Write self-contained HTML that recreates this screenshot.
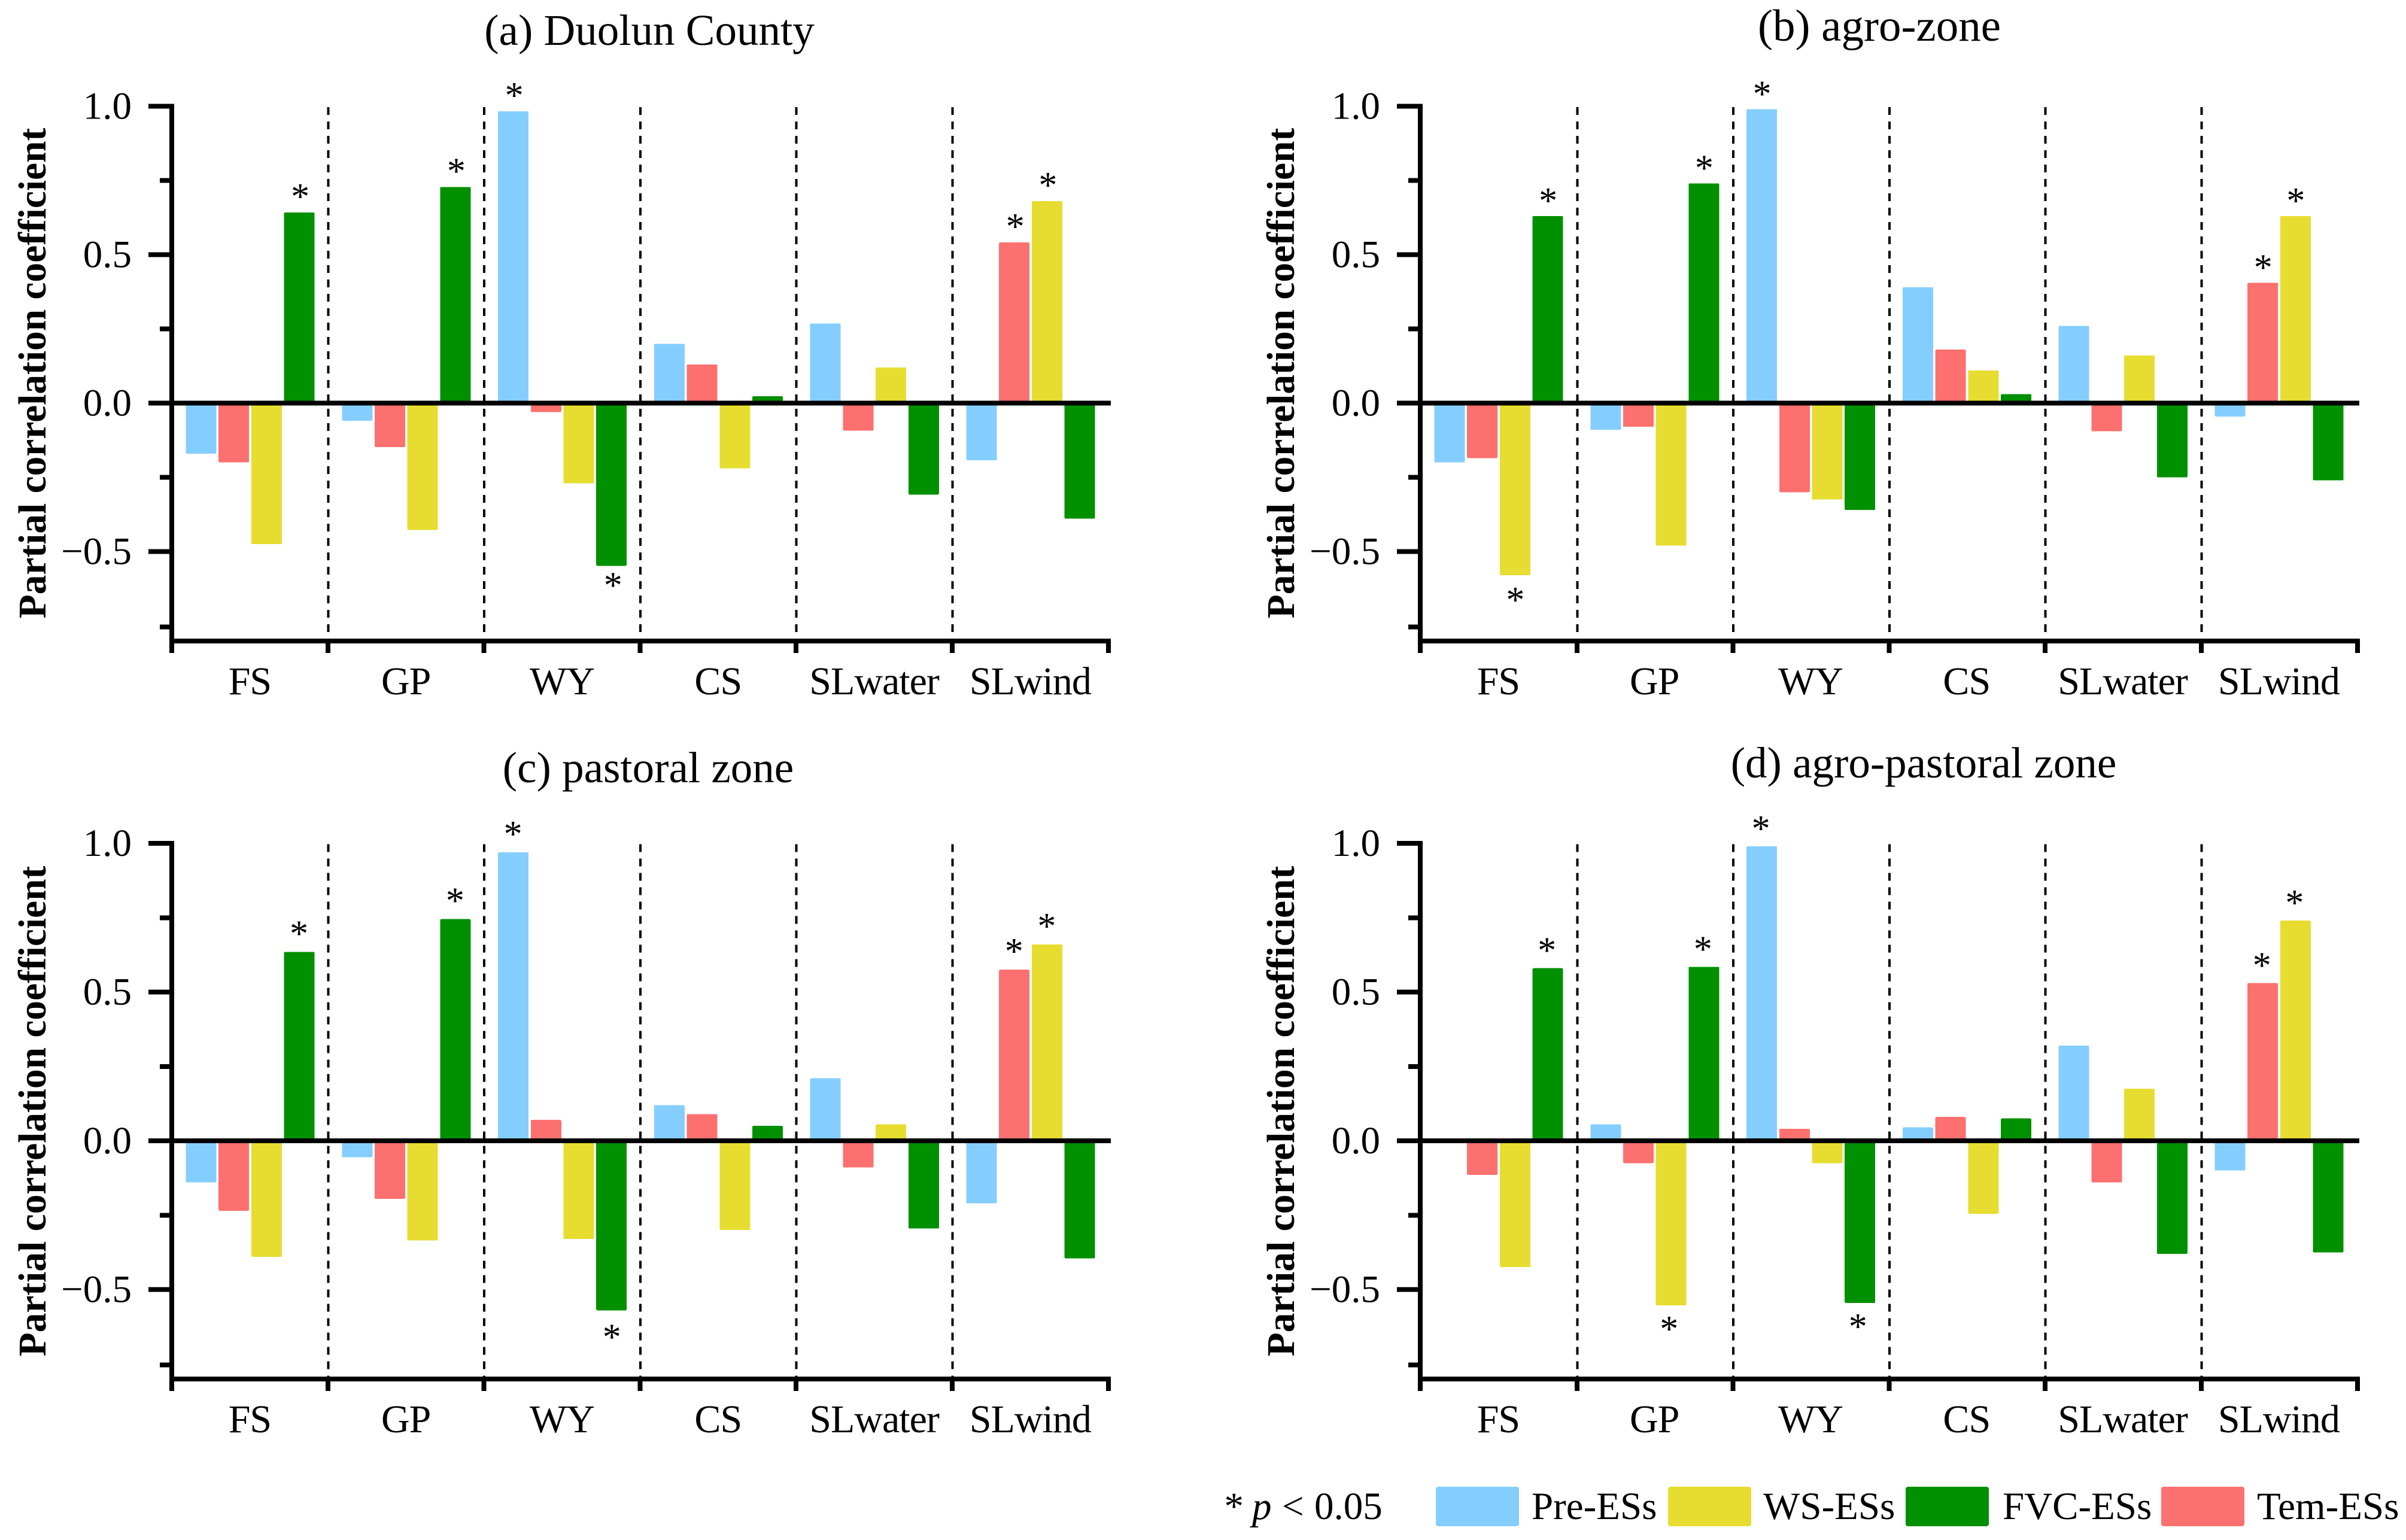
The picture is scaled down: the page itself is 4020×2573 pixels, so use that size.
<!DOCTYPE html>
<html lang="en">
<head>
<meta charset="utf-8">
<title>Partial correlation coefficient panels</title>
<style>
html,body{margin:0;padding:0;background:#fff;}
svg{display:block;}
text{font-family:"Liberation Serif",serif;fill:#000;}
</style>
</head>
<body>
<svg id="chart" xmlns="http://www.w3.org/2000/svg" width="4020" height="2573" viewBox="0 0 4020 2573" shape-rendering="crispEdges">
<rect x="0" y="0" width="4020" height="2573" fill="#ffffff"/>
<g id="panels"></g>
<g>
<text y="2538" font-size="65"><tspan x="2045.5">*</tspan><tspan x="2092" font-style="italic">p</tspan><tspan x="2142">&lt;</tspan><tspan x="2196">0.05</tspan></text>
<rect x="2399" y="2484" width="139" height="66" rx="4" fill="#84ceff"/>
<text x="2559" y="2538" font-size="65">Pre-ESs</text>
<rect x="2787" y="2484" width="139" height="66" rx="4" fill="#e6dd30"/>
<text x="2946" y="2538" font-size="65">WS-ESs</text>
<rect x="3184" y="2484" width="139" height="66" rx="4" fill="#009000"/>
<text x="3346" y="2538" font-size="65">FVC-ESs</text>
<rect x="3611" y="2484" width="139" height="66" rx="4" fill="#fd7070"/>
<text x="3771" y="2538" font-size="65">Tem-ESs</text>
</g>
</svg>
<script>
// Categories and tick labels
var categories = ['FS', 'GP', 'WY', 'CS', 'SLwater', 'SLwind'];
var majorTicks = [1.0, 0.5, 0.0, -0.5];
var minorTicks = [0.75, 0.25, -0.25, -0.754];
var tickLabels = ['1.0', '0.5', '0.0', '\u22120.5'];
var seriesNames = ['Pre-ESs', 'Tem-ESs', 'WS-ESs', 'FVC-ESs'];
var seriesColors = ['#84ceff', '#fd7070', '#e6dd30', '#009000'];

// Panel (a) Duolun County, values per category
var panelAPre = [-0.17, -0.059, 0.983, 0.20, 0.268, -0.193];
var panelATem = [-0.20, -0.148, -0.03, 0.13, -0.093, 0.541];
var panelAWs = [-0.475, -0.427, -0.27, -0.22, 0.12, 0.68];
var panelAFvc = [0.642, 0.728, -0.548, 0.023, -0.308, -0.389];
var panelASig = [[0, 3], [1, 3], [2, 0], [2, 3], [5, 1], [5, 2]];

// Panel (b) agro-zone
var panelBPre = [-0.20, -0.09, 0.99, 0.39, 0.26, -0.045];
var panelBTem = [-0.185, -0.08, -0.30, 0.18, -0.095, 0.405];
var panelBWs = [-0.58, -0.48, -0.325, 0.11, 0.16, 0.63];
var panelBFvc = [0.63, 0.74, -0.36, 0.03, -0.25, -0.26];
var panelBSig = [[0, 2], [0, 3], [1, 3], [2, 0], [5, 1], [5, 2]];

// Panel (c) pastoral zone
var panelCPre = [-0.14, -0.055, 0.97, 0.12, 0.21, -0.21];
var panelCTem = [-0.235, -0.195, 0.07, 0.09, -0.09, 0.575];
var panelCWs = [-0.39, -0.335, -0.33, -0.30, 0.055, 0.66];
var panelCFvc = [0.635, 0.745, -0.57, 0.05, -0.295, -0.395];
var panelCSig = [[0, 3], [1, 3], [2, 0], [2, 3], [5, 1], [5, 2]];

// Panel (d) agro-pastoral zone
var panelDPre = [0.003, 0.055, 0.99, 0.045, 0.32, -0.10];
var panelDTem = [-0.115, -0.075, 0.04, 0.08, -0.14, 0.53];
var panelDWs = [-0.425, -0.553, -0.075, -0.245, 0.175, 0.74];
var panelDFvc = [0.58, 0.585, -0.545, 0.075, -0.38, -0.375];
var panelDSig = [[0, 3], [1, 2], [1, 3], [2, 0], [2, 3], [5, 1], [5, 2]];

var panels = [
  {key: 'a', title: '(a) Duolun County', dx: 0, dy: 0, zero: 673.5, unit: 496, tickShift: 0, titleSize: 73, titleX: 1085, titleY: 75, starUpDx: 27, starUpDy: -6, starDownDx: 28, starDownDy: 53, series: [panelAPre, panelATem, panelAWs, panelAFvc], sig: panelASig},
  {key: 'b', title: '(b) agro-zone', dx: 2086, dy: 0, zero: 673.5, unit: 496, tickShift: 1, titleSize: 75, titleX: 3140, titleY: 68, starUpDx: 26, starUpDy: -5, starDownDx: 26, starDownDy: 62, series: [panelBPre, panelBTem, panelBWs, panelBFvc], sig: panelBSig},
  {key: 'c', title: '(c) pastoral zone', dx: 0, dy: 1233, zero: 1906, unit: 497, tickShift: 0, titleSize: 73, titleX: 1083, titleY: 1307, starUpDx: 25, starUpDy: -10, starDownDx: 26, starDownDy: 65, series: [panelCPre, panelCTem, panelCWs, panelCFvc], sig: panelCSig},
  {key: 'd', title: '(d) agro-pastoral zone', dx: 2086, dy: 1233, zero: 1906, unit: 497, tickShift: 1, titleSize: 73, titleX: 3214, titleY: 1299, starUpDx: 24, starUpDy: -9, starDownDx: 22, starDownDy: 60, series: [panelDPre, panelDTem, panelDWs, panelDFvc], sig: panelDSig}
];

var NS = 'http://www.w3.org/2000/svg';
var root = document.getElementById('panels');

function make(parent, tag, attrs, txt) {
  var el = document.createElementNS(NS, tag);
  for (var k in attrs) { el.setAttribute(k, attrs[k]); }
  if (txt !== undefined) { el.textContent = txt; }
  parent.appendChild(el);
  return el;
}

function yScale(p, v) { return p.zero - v * p.unit; }
function groupX(p, i) { return p.dx + 287 + i * 260.8; }
function barX(p, i, s) { return groupX(p, i) + 23.5 + s * 54.7; }

panels.forEach(function (p) {
  var g = make(root, 'g', {});
  
  

  var title = make(g, 'text', {x: p.titleX, y: p.titleY, 'font-size': p.titleSize, 'text-anchor': 'middle'}, p.title);
  
  

  var yTitleX = p.dx + 76;
  var yTitleY = p.dy + 623.5;
  var yTitle = make(g, 'text', {x: yTitleX, y: yTitleY, 'font-size': 65.4, 'font-weight': 'bold', 'text-anchor': 'middle', transform: 'rotate(-90 ' + yTitleX + ' ' + yTitleY + ')'}, 'Partial correlation coefficient');
  
  

  // group separators
  for (var d = 1; d < categories.length; d++) {
    var sepX = groupX(p, d) + 0.5 + p.tickShift;
    var sep = make(g, 'line', {x1: sepX, x2: sepX, y1: yScale(p, 1) + 1.5, y2: p.dy + 1067, stroke: '#000', 'stroke-width': 4, 'stroke-dasharray': '13 11'});
    
    
  }

  // bars
  p.series.forEach(function (vals, s) {
    vals.forEach(function (v, i) {
      var y0 = yScale(p, 0), y1 = yScale(p, v);
      var bar = make(g, 'rect', {x: barX(p, i, s), y: Math.min(y0, y1), width: 51, height: Math.abs(y1 - y0), rx: 2, fill: seriesColors[s]});
      
      
    });
  });

  // significance stars
  p.sig.forEach(function (pair) {
    var i = pair[0], s = pair[1];
    var v = p.series[s][i];
    var up = v >= 0;
    var starY = yScale(p, v) + (up ? p.starUpDy : p.starDownDy);
    var starX = barX(p, i, s) + (up ? p.starUpDx : p.starDownDx);
    var star = make(g, 'text', {x: starX, y: starY, 'font-size': 62, 'text-anchor': 'middle'}, '*');
    
    
  });

  // y axis spine
  var spineTop = yScale(p, 1) - 4;
  var ySpine = make(g, 'rect', {x: p.dx + 283, y: spineTop, width: 8, height: p.dy + 1091 - spineTop, fill: '#000'});
  
  

  // major ticks + labels
  majorTicks.forEach(function (t, idx) {
    var ty = yScale(p, t);
    var tick = make(g, 'rect', {x: p.dx + 248, y: ty - 4, width: 36, height: 8, fill: '#000'});
    
    
    var label = make(g, 'text', {x: p.dx + 220, y: ty + 21, 'font-size': 65, 'text-anchor': 'end'}, tickLabels[idx]);
    
    
  });

  minorTicks.forEach(function (t) {
    var ty = yScale(p, t);
    var tick = make(g, 'rect', {x: p.dx + 267, y: ty - 4, width: 17, height: 8, fill: '#000'});
    
    
  });

  // zero line
  var zero = make(g, 'rect', {x: p.dx + 283, y: yScale(p, 0) - 4, width: 1573, height: 8, fill: '#000'});
  
  

  // x axis
  var xAxis = make(g, 'rect', {x: p.dx + 283, y: p.dy + 1067, width: 1573, height: 8, fill: '#000'});
  
  

  for (var b = 1; b <= categories.length; b++) {
    var xt = make(g, 'rect', {x: groupX(p, b) - 4 + p.tickShift, y: p.dy + 1067, width: 8, height: 24, fill: '#000'});
    
    
  }

  categories.forEach(function (c, i) {
    var lab = make(g, 'text', {x: groupX(p, i) + 130.4, y: p.dy + 1160, 'font-size': 66, 'text-anchor': 'middle', 'letter-spacing': -1}, c);
    
    
  });
});
</script>
</body>
</html>
